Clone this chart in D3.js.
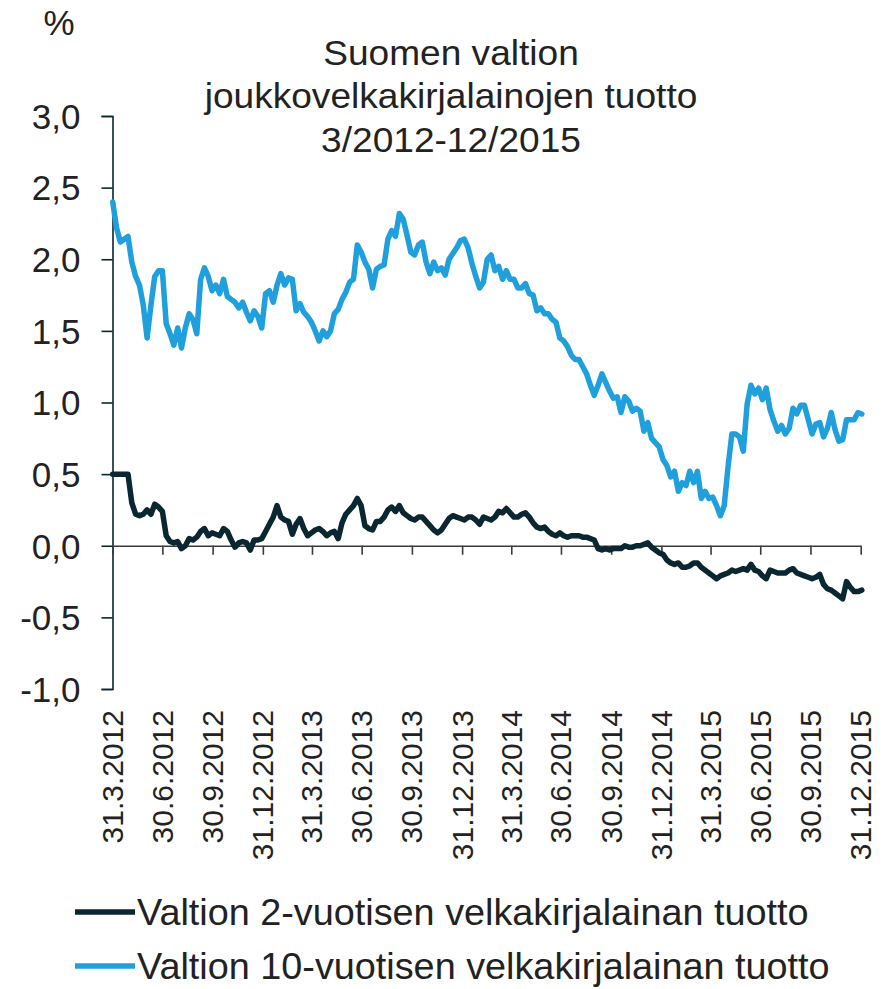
<!DOCTYPE html>
<html>
<head>
<meta charset="utf-8">
<script src="https://cdn.jsdelivr.net/npm/d3@7"></script>
<style>
  body { margin: 0; background: #fff; }
  svg text { font-family: "Liberation Sans", Arial, sans-serif; fill: #222; }
</style>
</head>
<body>
<svg id="chart" width="887" height="989"></svg>
<script>
// Suomen valtion joukkovelkakirjalainojen tuotto, weekly readings from 31.3.2012

const titleLines = ['Suomen valtion', 'joukkovelkakirjalainojen tuotto', '3/2012-12/2015'];
const yTicks = [-1, -0.5, 0, 0.5, 1, 1.5, 2, 2.5, 3];
const xTickDates = ['2012-03-31', '2012-06-30', '2012-09-30', '2012-12-31',
  '2013-03-31', '2013-06-30', '2013-09-30', '2013-12-31',
  '2014-03-31', '2014-06-30', '2014-09-30', '2014-12-31',
  '2015-03-31', '2015-06-30', '2015-09-30', '2015-12-31'];
const seriesNames = ['Valtion 2-vuotisen velkakirjalainan tuotto', 'Valtion 10-vuotisen velkakirjalainan tuotto'];
const seriesColors = ['#0a2630', '#1fa0dc'];

// 2-year yield, one value a week
const yield2 = [
  0.50, 0.50, 0.50, 0.50, 0.50, 0.30, 0.22, 0.21, 0.22, 0.25,
  0.22, 0.29, 0.27, 0.24, 0.07, 0.03, 0.02, 0.03, -0.02, 0.00,
  0.05, 0.04, 0.06, 0.10, 0.12, 0.07, 0.09, 0.08, 0.07, 0.12,
  0.10, 0.04, -0.01, 0.02, 0.03, 0.02, -0.03, 0.04, 0.04, 0.05,
  0.10, 0.15, 0.20, 0.28, 0.20, 0.18, 0.17, 0.08, 0.15, 0.19,
  0.12, 0.07, 0.09, 0.11, 0.12, 0.10, 0.07, 0.09, 0.10, 0.05,
  0.16, 0.22, 0.25, 0.28, 0.33, 0.28, 0.14, 0.12, 0.11, 0.17,
  0.17, 0.20, 0.25, 0.27, 0.24, 0.28, 0.23, 0.21, 0.19, 0.18,
  0.20, 0.20, 0.17, 0.14, 0.11, 0.09, 0.11, 0.15, 0.19, 0.21,
  0.20, 0.19, 0.18, 0.20, 0.20, 0.18, 0.15, 0.20, 0.19, 0.18,
  0.20, 0.24, 0.23, 0.26, 0.23, 0.20, 0.20, 0.22, 0.23, 0.20,
  0.16, 0.13, 0.12, 0.13, 0.10, 0.08, 0.07, 0.09, 0.07, 0.06,
  0.07, 0.07, 0.07, 0.06, 0.06, 0.05, 0.04, -0.02, -0.03, -0.02,
  -0.03, -0.02, -0.02, -0.02, 0.00, -0.01, -0.01, 0.00, 0.00, 0.01,
  0.02, -0.01, -0.03, -0.05, -0.06, -0.10, -0.12, -0.13, -0.12, -0.15,
  -0.15, -0.14, -0.12, -0.12, -0.15, -0.17, -0.19, -0.21, -0.23, -0.21,
  -0.20, -0.19, -0.17, -0.18, -0.17, -0.16, -0.17, -0.13, -0.17, -0.18,
  -0.21, -0.23, -0.17, -0.18, -0.19, -0.19, -0.19, -0.17, -0.16, -0.19,
  -0.20, -0.21, -0.22, -0.23, -0.22, -0.20, -0.27, -0.30, -0.31, -0.33,
  -0.35, -0.37, -0.25, -0.29, -0.32, -0.32, -0.31
];

// 10-year yield, one value a week
const yield10 = [
  2.40, 2.22, 2.12, 2.14, 2.16, 1.98, 1.88, 1.82, 1.68, 1.45,
  1.68, 1.88, 1.92, 1.92, 1.55, 1.48, 1.40, 1.52, 1.38, 1.52,
  1.62, 1.58, 1.48, 1.86, 1.94, 1.88, 1.78, 1.82, 1.76, 1.86,
  1.74, 1.72, 1.70, 1.66, 1.70, 1.63, 1.57, 1.64, 1.60, 1.52,
  1.76, 1.78, 1.70, 1.82, 1.90, 1.82, 1.87, 1.86, 1.64, 1.69,
  1.63, 1.60, 1.56, 1.50, 1.43, 1.50, 1.46, 1.50, 1.62, 1.65,
  1.72, 1.77, 1.84, 1.86, 2.10, 2.05, 1.98, 1.93, 1.80, 1.93,
  1.95, 1.96, 2.14, 2.20, 2.16, 2.32, 2.28, 2.17, 2.05, 2.03,
  2.10, 2.12, 1.98, 1.90, 1.98, 1.92, 1.94, 1.89, 2.00, 2.04,
  2.08, 2.13, 2.14, 2.08, 1.97, 1.88, 1.80, 1.84, 2.00, 2.03,
  1.92, 1.95, 1.86, 1.92, 1.86, 1.86, 1.80, 1.80, 1.83, 1.76,
  1.75, 1.64, 1.66, 1.62, 1.62, 1.58, 1.56, 1.45, 1.43, 1.39,
  1.33, 1.30, 1.30, 1.25, 1.20, 1.12, 1.05, 1.12, 1.20, 1.14,
  1.08, 1.03, 1.04, 0.93, 1.04, 1.01, 0.94, 0.96, 0.94, 0.80,
  0.86, 0.75, 0.72, 0.69, 0.60, 0.56, 0.48, 0.52, 0.38, 0.44,
  0.42, 0.52, 0.44, 0.52, 0.33, 0.38, 0.33, 0.34, 0.28, 0.21,
  0.28, 0.55, 0.78, 0.78, 0.76, 0.66, 0.99, 1.12, 1.06, 1.10,
  1.02, 1.10, 0.95, 0.87, 0.80, 0.84, 0.78, 0.82, 0.96, 0.92,
  0.98, 0.98, 0.88, 0.78, 0.85, 0.86, 0.76, 0.82, 0.93, 0.81,
  0.73, 0.74, 0.88, 0.88, 0.88, 0.93, 0.92
];

const parseDate = d3.timeParse('%Y-%m-%d');
const startDate = parseDate('2012-03-31');
const weeks = yield2.map((d, i) => d3.timeDay.offset(startDate, 7 * i));

const svg = d3.select('#chart');

const x = d3.scaleTime()
  .domain([startDate, parseDate('2015-12-31')])
  .range([112.7, 860.7]);

const y = d3.scaleLinear()
  .domain([-1, 3])
  .range([689, 116]);

// Title and unit
svg.append('text')
  .attr('x', 59).attr('y', 35)
  .attr('text-anchor', 'middle')
  .style('font-size', '35px')
  .text('%');

// the reference type is a little wider than Liberation Sans, so stretch it sideways
svg.append('g')
  .attr('transform', 'translate(451,0) scale(1.06,1)')
  .selectAll('text')
  .data(titleLines)
  .join('text')
  .attr('x', 0)
  .attr('y', (d, i) => 65 + i * 43.5)
  .attr('text-anchor', 'middle')
  .style('font-size', '35px')
  .text(d => d);

// Y axis
const yAxis = svg.append('g')
  .attr('transform', 'translate(112.5,0)')
  .call(d3.axisLeft(y).tickValues(yTicks).tickSize(11).tickPadding(21)
    .tickFormat(d => d3.format('.1f')(d).replace('.', ',').replace('−', '-')));
yAxis.select('.domain').attr('stroke', '#0a2630').attr('stroke-width', 1.6);
yAxis.selectAll('.tick line').attr('stroke', '#0a2630').attr('stroke-width', 1.6);
yAxis.selectAll('.tick text')
  .style('font-size', '35px')
  .attr('fill', '#222')
  .attr('dy', '0.35em');

// X axis on zero line
const xAxis = svg.append('g')
  .attr('transform', `translate(0,${y(0)})`)
  .call(d3.axisBottom(x).tickValues(xTickDates.map(parseDate)).tickSize(9).tickSizeOuter(0).tickFormat(''));
xAxis.select('.domain').attr('stroke', '#3a3a3a').attr('stroke-width', 1.6);
xAxis.selectAll('.tick line').attr('stroke', '#3a3a3a').attr('stroke-width', 1.6);

// Rotated date labels below the plot
svg.append('g').selectAll('text')
  .data(xTickDates.map(parseDate))
  .join('text')
  .attr('transform', d => `translate(${x(d)},710) rotate(-90)`)
  .attr('text-anchor', 'end')
  .attr('dy', '0.35em')
  .style('font-size', '30px')
  .text(d3.timeFormat('%-d.%-m.%Y'));

// Lines
const line = d3.line()
  .x((d, i) => x(weeks[i]))
  .y(d => y(d));

[yield10, yield2].forEach((s, k) => {
  svg.append('path')
    .datum(s)
    .attr('fill', 'none')
    .attr('stroke', seriesColors[1 - k])
    .attr('stroke-width', 5.5)
    .attr('stroke-linejoin', 'round')
    .attr('stroke-linecap', 'round')
    .attr('d', line);
});

// Legend
const legend = svg.append('g').selectAll('g')
  .data(seriesNames)
  .join('g')
  .attr('transform', (d, i) => `translate(0,${912 + i * 54})`);
legend.append('line')
  .attr('x1', 75).attr('x2', 135)
  .attr('stroke', (d, i) => seriesColors[i])
  .attr('stroke-width', 5.5);
legend.append('text')
  .attr('transform', 'translate(137,0) scale(1.05,1)')
  .attr('dy', '0.35em')
  .style('font-size', '36px')
  .text(d => d);
</script>
</body>
</html>
